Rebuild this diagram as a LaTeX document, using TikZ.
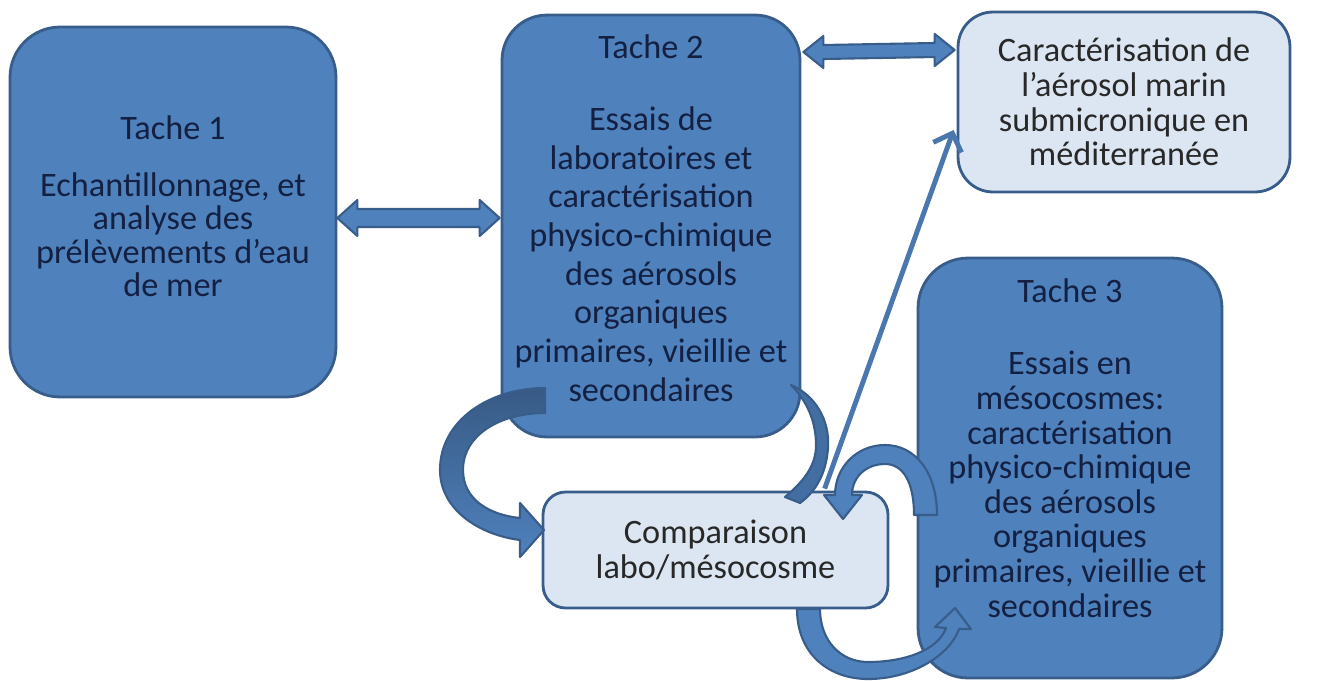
\documentclass[tikz,border=0pt]{standalone}
\usepackage{fontspec}
\setmainfont{Carlito}
\usetikzlibrary{calc,arrows.meta}
\definecolor{tblue}{RGB}{79,129,189}
\definecolor{tline}{RGB}{56,93,138}
\definecolor{tlight}{RGB}{220,230,242}
\definecolor{ttext}{RGB}{20,32,66}
\definecolor{ltext}{RGB}{40,40,40}
\tikzset{
  tache/.style={draw=tline, fill=tblue, line width=1.6pt, rounded corners=1cm},
  tachetext/.style={text=ttext, align=center, inner sep=0pt},
  lightbox/.style={draw=tline, fill=tlight, line width=1.6pt, text=ltext, align=center,
    font=\fontsize{19.5}{19.8}\selectfont},
  blockarrow/.style={fill=tblue, draw=tline, line width=1.2pt, line join=round},
  dblarrow/.style 2 args={to path={(\tikztostart) -- ++(20,-#2) -- ++(0,#2-#1)
    -- ($(\tikztotarget)+(-20,-#1)$) -- ++(0,#1-#2) -- (\tikztotarget) -- ++(-20,#2)
    -- ++(0,#1-#2) -- ($(\tikztostart)+(20,#1)$) -- ++(0,#2-#1) -- cycle}},
  thinarrow/.style={draw=tblue!92!black, line width=2.8pt, -{Straight Barb[length=0.3cm,width=0.6cm]}}
}
\begin{document}
\begin{tikzpicture}[x=0.02cm, y=-0.02cm]
\useasboundingbox (0,0) rectangle (1327,680);
\node[tache, minimum width=6.52cm, minimum height=7.4cm] (t1) at (173,212) {};
\node[tachetext, font=\fontsize{19.5}{19}\selectfont] (t1txt) at ($(t1)+(0,-6)$)
  {Tache 1\\[13.5pt]Echantillonnage, et\\analyse des\\prélèvements d’eau\\de mer};
\node[tache, minimum width=5.96cm, minimum height=8.44cm, rounded corners=0.9cm] (t2) at (651,226) {};
\node[tachetext, font=\fontsize{19.5}{22}\selectfont] (t2txt) at ($(t2)+(0,-8)$)
  {Tache 2\\[19pt]Essais de\\laboratoires et\\caractérisation\\physico-chimique\\des aérosols\\organiques\\primaires, vieillie et\\secondaires};
\node[lightbox, minimum width=6.64cm, minimum height=3.6cm, rounded corners=0.7cm] (carac) at (1124,102)
  {Caractérisation de\\l’aérosol marin\\submicronique en\\méditerranée};
\node[tache, minimum width=6.08cm, minimum height=8.4cm] (t3) at (1070,468) {};
\node[tachetext, font=\fontsize{19.5}{19.7}\selectfont] (t3txt) at ($(t3)+(0,-20)$)
  {Tache 3\\[21.5pt]Essais en\\mésocosmes:\\caractérisation\\physico-chimique\\des aérosols\\organiques\\primaires, vieillie et\\secondaires};
\node[lightbox, minimum width=6.9cm, minimum height=2.32cm, rounded corners=0.45cm] (comp) at (715.5,550)
  {Comparaison\\labo/mésocosme};

\coordinate (d1a) at ($(t1.east)+(0,6)$);
\coordinate (d1b) at ($(t2.west)+(-1,-8)$);
\coordinate (d2a) at ($(t2.east)+(2,-174)$);
\coordinate (d2b) at ($(carac.west)+(-2,-52)$);
\filldraw[blockarrow] (d1a) to[dblarrow={9}{18}] (d1b);
\filldraw[blockarrow] (d2a) to[dblarrow={7}{16}] (d2b);
\draw[thinarrow] ($(comp.north west)+(283,-2)$) -- ($(carac.west)+(-3,28)$);

\filldraw[blockarrow, top color=tblue!70!black, bottom color=tblue] (545,388) .. controls (490,388) and (440,420) .. (440,470)
  .. controls (440,510) and (480,535) .. (520,540) -- (520,557) -- (544,530) -- (520,503) -- (520,518)
  .. controls (490,515) and (463,500) .. (463,470) .. controls (463,435) and (500,413) .. (545,413) -- cycle;
\filldraw[blockarrow, fill=tblue!85!black] (791,385) .. controls (815,395) and (830,420) .. (828,448)
  .. controls (826,475) and (815,492) .. (800,503) -- (785,497)
  .. controls (805,480) and (816,465) .. (816,445) .. controls (816,420) and (806,400) .. (791,385) -- cycle;
\filldraw[blockarrow] (937,515) .. controls (937,472) and (915,445) .. (885,445)
  .. controls (857,445) and (835,467) .. (835,495) -- (824,495) -- (843,519) -- (862,495) -- (852,495)
  .. controls (852,477) and (866,464) .. (885,464) .. controls (903,464) and (914,482) .. (914,515) -- cycle;
\filldraw[blockarrow] (797,609) .. controls (797,655) and (830,679) .. (868,679)
  .. controls (912,679) and (950,655) .. (959,629) -- (971,629) -- (955,608) -- (935,627) -- (946,628)
  .. controls (938,650) and (905,662) .. (868,662) .. controls (840,662) and (820,640) .. (820,609) -- cycle;
\end{tikzpicture}
\end{document}
